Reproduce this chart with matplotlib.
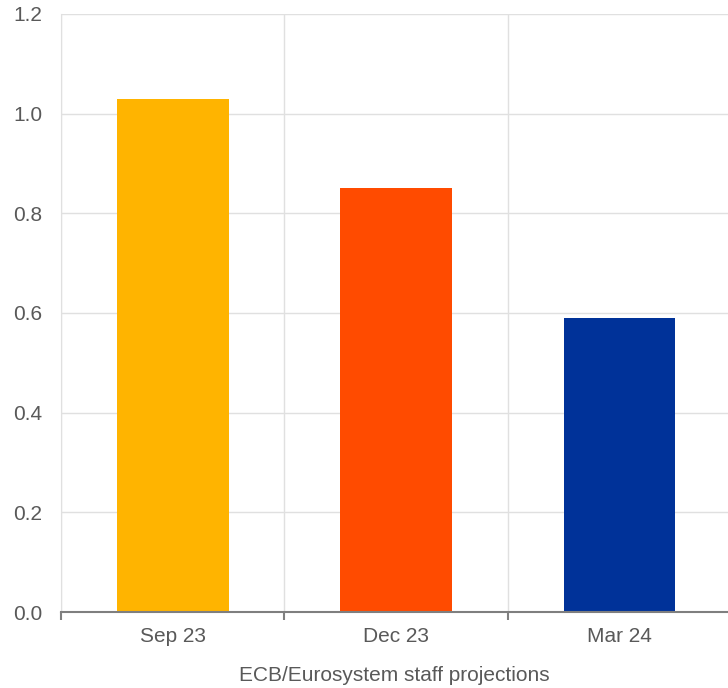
import numpy as np
import matplotlib.pyplot as plt
from matplotlib.ticker import FixedLocator

plt.rcParams['font.family'] = ['Liberation Sans', 'DejaVu Sans']

categories = ["Sep 23", "Dec 23", "Mar 24"]
values = [1.03, 0.85, 0.59]
colors = ["#FFB400", "#FF4B00", "#003299"]

fig = plt.figure(figsize=(7.28, 6.88), dpi=100)
ax = fig.add_axes([61/728, 1 - 612/688, 1 - 61/728, (612 - 14)/688])

x = np.arange(len(categories))
ax.bar(x, values, width=0.5, color=colors, zorder=3)

ax.set_xlim(-0.5, 2.485)
ax.set_ylim(0, 1.2)
ax.set_yticks(np.arange(0, 1.21, 0.2))
ax.set_yticklabels([f"{v:.1f}" for v in np.arange(0, 1.21, 0.2)])

# category labels in the middle, tick marks at the boundaries
ax.set_xticks(x)
ax.set_xticklabels(categories)
ax.xaxis.set_minor_locator(FixedLocator([-0.5, 0.5, 1.5, 2.5]))
ax.tick_params(axis='x', which='major', length=0, pad=11)
ax.tick_params(axis='x', which='minor', length=6, width=1.5, color='#7f7f7f')
ax.tick_params(axis='y', length=0, pad=13.5)
ax.tick_params(labelsize=15, labelcolor='#595959')

ax.grid(axis='y', color='#e0e0e0', linewidth=1, zorder=0)
ax.grid(axis='x', which='minor', color='#e0e0e0', linewidth=1, zorder=0)

for s in ['top', 'right']:
    ax.spines[s].set_visible(False)
ax.spines['left'].set_color('#e0e0e0')
ax.spines['bottom'].set_color('#7f7f7f')
ax.spines['bottom'].set_linewidth(1.5)
ax.spines['bottom'].set_zorder(4)

ax.set_xlabel("ECB/Eurosystem staff projections", fontsize=15, color='#595959', labelpad=14.5)

fig.savefig("out.png", dpi=100)
